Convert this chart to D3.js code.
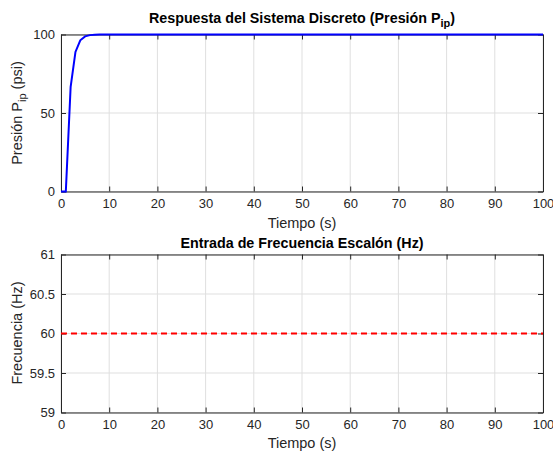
<!DOCTYPE html>
<html>
<head>
<meta charset="utf-8">
<script src="https://cdn.jsdelivr.net/npm/d3@7"></script>
<style>
  body { margin: 0; background: #fff; }
  svg { display: block; font-family: "Liberation Sans", Arial, sans-serif; }
</style>
</head>
<body>
<svg width="553" height="452"></svg>
<script>
// data
var tiempo = [0, 1, 2, 3, 4, 5, 6, 7, 8, 9, 10, 100]
var presion = [0, 0, 66.7, 88.9, 96.3, 98.8, 99.6, 99.9, 100, 100, 100, 100]
var tiempoFreq = [0, 100]
var frecuencia = [60, 60]
var xTicks = [0, 10, 20, 30, 40, 50, 60, 70, 80, 90, 100]
var yTicksP = [0, 50, 100]
var yTicksF = [59, 59.5, 60, 60.5, 61]

var svg = d3.select('svg')
var ink = '#262626'

function panel (top, bottom, yDomain, yTicks, yFmt) {
  var x = d3.scaleLinear().domain([0, 100]).range([61, 543])
  var y = d3.scaleLinear().domain(yDomain).range([bottom, top])
  var g = svg.append('g')

  // grid
  g.selectAll('.gx').data(xTicks).enter().append('line')
    .attr('x1', d => x(d)).attr('x2', d => x(d))
    .attr('y1', top).attr('y2', bottom)
    .style('stroke', '#dfdfdf').style('stroke-width', 1)
  g.selectAll('.gy').data(yTicks).enter().append('line')
    .attr('x1', 61).attr('x2', 543)
    .attr('y1', d => y(d)).attr('y2', d => y(d))
    .style('stroke', '#dfdfdf').style('stroke-width', 1)

  var axB = g.append('g').attr('transform', `translate(0,${bottom})`)
    .call(d3.axisBottom(x).tickValues(xTicks).tickSizeInner(-5).tickSizeOuter(0).tickPadding(7))
  var axT = g.append('g').attr('transform', `translate(0,${top})`)
    .call(d3.axisTop(x).tickValues(xTicks).tickSizeInner(-5).tickSizeOuter(0).tickFormat(''))
  var axL = g.append('g').attr('transform', 'translate(61,0)')
    .call(d3.axisLeft(y).tickValues(yTicks).tickSizeInner(-5).tickSizeOuter(0).tickPadding(6).tickFormat(yFmt))
  var axR = g.append('g').attr('transform', 'translate(543,0)')
    .call(d3.axisRight(y).tickValues(yTicks).tickSizeInner(-5).tickSizeOuter(0).tickFormat(''))

  ;[axB, axT, axL, axR].forEach(function (a) {
    a.select('.domain').style('stroke', ink).style('stroke-width', 1)
    a.selectAll('.tick line').style('stroke', ink)
    a.selectAll('text').style('fill', ink).style('font-size', '13px')
      .style('font-family', '"Liberation Sans", Arial, sans-serif')
  })
  return { x: x, y: y, g: g }
}

// top panel
var p1 = panel(34.5, 191.5, [0, 100], yTicksP, d3.format('d'))
var line1 = d3.line().x((d, i) => p1.x(tiempo[i])).y(d => p1.y(d))
p1.g.append('path').datum(presion)
  .attr('d', line1)
  .style('fill', 'none').style('stroke', '#0000ff').style('stroke-width', 2)

var t1 = svg.append('text').attr('x', 302).attr('y', 23)
  .style('text-anchor', 'middle').style('font-weight', 'bold').style('font-size', '14.3px').style('fill', '#000')
t1.append('tspan').text('Respuesta del Sistema Discreto (Presión P')
t1.append('tspan').attr('dy', 4).style('font-size', '11px').text('ip')
t1.append('tspan').attr('dy', -4).text(')')

svg.append('text').attr('x', 302).attr('y', 228)
  .style('text-anchor', 'middle').style('font-size', '14.5px').style('fill', ink)
  .text('Tiempo (s)')

var yl1 = svg.append('text').attr('transform', 'translate(22,113) rotate(-90)')
  .style('text-anchor', 'middle').style('font-size', '14.5px').style('fill', ink)
yl1.append('tspan').text('Presión P')
yl1.append('tspan').attr('dy', 4).style('font-size', '11px').text('ip')
yl1.append('tspan').attr('dy', -4).text(' (psi)')

// bottom panel
var p2 = panel(254.5, 412.5, [59, 61], yTicksF, d => String(d))
var line2 = d3.line().x((d, i) => p2.x(tiempoFreq[i])).y(d => p2.y(d))
p2.g.append('path').datum(frecuencia)
  .attr('d', line2)
  .style('fill', 'none').style('stroke', '#ff0000').style('stroke-width', 2)
  .style('stroke-dasharray', '6,4')

svg.append('text').attr('x', 302).attr('y', 248)
  .style('text-anchor', 'middle').style('font-weight', 'bold').style('font-size', '14.3px').style('fill', '#000')
  .text('Entrada de Frecuencia Escalón (Hz)')

svg.append('text').attr('x', 302).attr('y', 448)
  .style('text-anchor', 'middle').style('font-size', '14.5px').style('fill', ink)
  .text('Tiempo (s)')

svg.append('text').attr('transform', 'translate(22,333) rotate(-90)')
  .style('text-anchor', 'middle').style('font-size', '14.5px').style('fill', ink)
  .text('Frecuencia (Hz)')
</script>
</body>
</html>
